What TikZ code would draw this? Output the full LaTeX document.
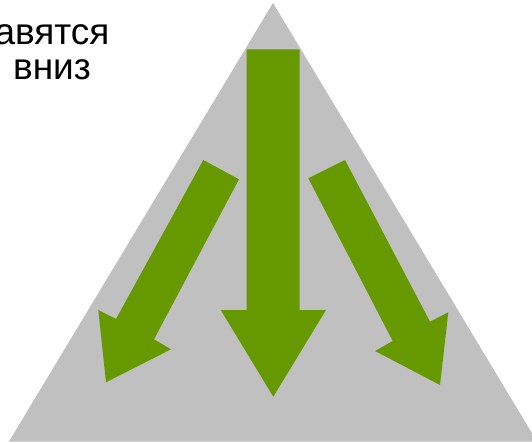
\documentclass[tikz,border=0pt]{standalone}
\usepackage{fontspec}
\setmainfont{Liberation Sans}
\definecolor{grau}{HTML}{C0C0C0}
\definecolor{gruen}{HTML}{669900}
\tikzset{
  dreieck/.style={fill=grau,draw=none},
  pfeil/.style={fill=gruen,draw=none},
  schrift/.style={font=\fontsize{37}{35}\selectfont,align=center,inner sep=0pt},
}

\begin{document}
\begin{tikzpicture}[x=1pt,y=-1pt]
  \useasboundingbox (0,0) rectangle (532,443);
  % grosses Dreieck
  \draw[dreieck] (273,3)--(537,441.5)--(9,441.5)--cycle;
  % Pfeil Mitte
  \draw[pfeil] (246.7,49.3)--(299.6,49.3)--(299.6,310)--(326,310)--(273.3,396.7)
    --(220.7,310)--(246.7,310)--cycle;
  % Pfeil links
  \draw[pfeil] (203.3,160)--(239,179.3)--(154,339.3)--(171,349.3)--(106,382.3)
    --(98.3,310)--(116,319)--cycle;
  % Pfeil rechts
  \draw[pfeil] (345,160)--(308.3,178.3)--(392.7,341)--(375,351)--(440,385)
    --(448.3,312.3)--(430,321.7)--cycle;
  \node[schrift] (text) at (52,52) {авятся\\вниз};
\end{tikzpicture}
\end{document}
